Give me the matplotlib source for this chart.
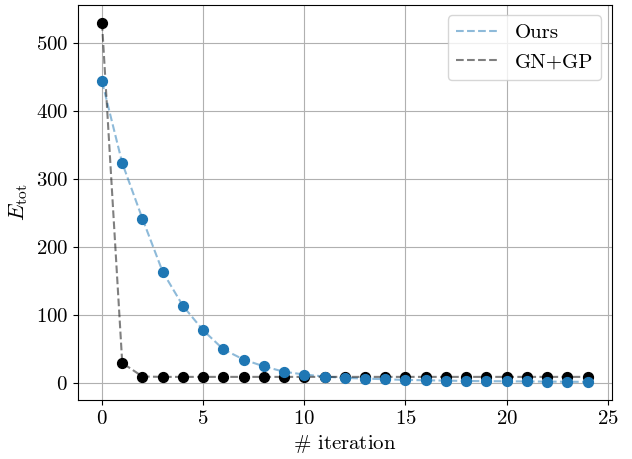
import matplotlib
matplotlib.use("Agg")
import matplotlib.pyplot as plt

plt.rcParams['font.family'] = 'serif'
plt.rcParams['font.serif'] = ['cmr10']
plt.rcParams['mathtext.fontset'] = 'cm'
plt.rcParams['axes.unicode_minus'] = False
plt.rcParams['axes.formatter.use_mathtext'] = True
plt.rcParams['font.size'] = 15

iterations = list(range(25))
ours = [444, 324, 242, 164, 114, 78, 50, 35, 25, 17, 13, 10, 8, 7, 6, 5,
        4.5, 4, 3.5, 3.2, 3, 2.8, 2.6, 2.4, 2.2]
gngp = [530, 30, 10, 9.5, 9.5, 9.5, 9.5, 9.5, 9.5, 9.5, 9.5, 9.5, 9.5, 9.5,
        9.5, 9.5, 9.5, 9.5, 9.5, 9.5, 9.5, 9.5, 9.5, 9.5, 9.5]

fig = plt.figure(figsize=(6.32, 4.59), dpi=100)
ax = fig.add_subplot(111)
fig.subplots_adjust(left=0.123, right=0.968, top=0.989, bottom=0.129)

ax.plot(iterations, ours, '--', color='tab:blue', alpha=0.5, label='Ours')
ax.plot(iterations, gngp, '--', color='black', alpha=0.5, label='GN+GP')
ax.scatter(iterations, gngp, color='black', s=50, zorder=3)
ax.scatter(iterations, ours, color='tab:blue', s=50, zorder=3)

ax.set_xlabel(r'$\#$ iteration')
ax.set_ylabel(r'$E_{\mathrm{tot}}$', fontsize=16)
ax.grid()
ax.legend(loc='upper right')

plt.savefig('out.png')
